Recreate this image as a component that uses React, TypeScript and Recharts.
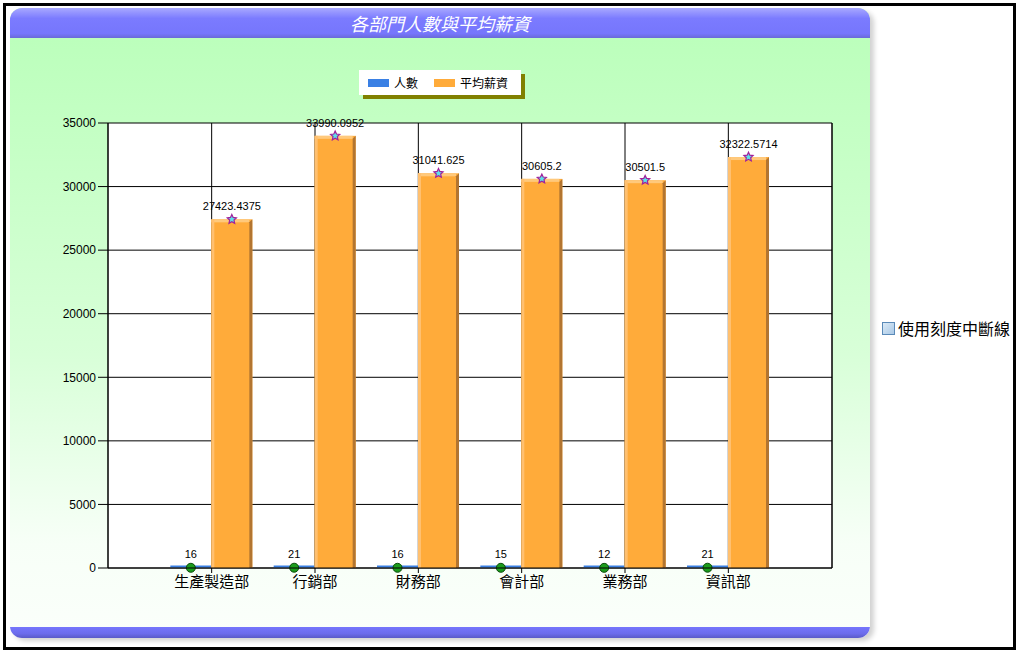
import { BarChart, Bar, XAxis, YAxis, CartesianGrid, Legend, LabelList } from "recharts";

const DEPARTMENTS = ["生產製造部", "行銷部", "財務部", "會計部", "業務部", "資訊部"];
const HEADCOUNT = [16, 21, 16, 15, 12, 21];
const AVG_SALARY = [27423.4375, 33990.0952, 31041.625, 30605.2, 30501.5, 32322.5714];
const Y_TICKS = [0, 5000, 10000, 15000, 20000, 25000, 30000, 35000];

const BLUE = "#3a80e4";
const ORANGE = "#ffab3a";
const FONT = "'Liberation Sans', Arial, 'Noto Sans CJK TC', sans-serif";

const data = DEPARTMENTS.map((name, i) => ({
   name,
   count: HEADCOUNT[i],
   salary: AVG_SALARY[i],
}));

// thin blue bar + green dot marker on top
const CountShape = (props: any) => {
   const { x, y, width, height } = props;
   const base = y + height;
   return (
      <g>
         <rect x={x} y={base - 2.5} width={width} height={2} fill={BLUE} />
         <circle cx={x + width / 2} cy={y} r={4.5} fill="#1c9c1c" stroke="#0c4c0c" strokeWidth={1} />
      </g>
   );
};

const starPoints = (cx: number, cy: number, ro: number, ri: number) => {
   const pts: string[] = [];
   for (let i = 0; i < 10; i++) {
      const r = i % 2 === 0 ? ro : ri;
      const a = -Math.PI / 2 + (i * Math.PI) / 5;
      pts.push(`${cx + r * Math.cos(a)},${cy + r * Math.sin(a)}`);
   }
   return pts.join(" ");
};

// orange bar with fake 3D edges + star marker
const SalaryShape = (props: any) => {
   const { x, y, width, height } = props;
   const d = 3;
   return (
      <g>
         <rect x={x} y={y} width={width} height={height} fill={ORANGE} />
         <rect x={x} y={y} width={width - d} height={d} fill="#ffc97c" />
         <rect x={x} y={y} width={d} height={height} fill="#ffc070" />
         <polygon
            points={`${x + width - d},${y + d} ${x + width},${y} ${x + width},${y + height} ${x + width - d},${y + height}`}
            fill="#b27531"
         />
         <polygon points={starPoints(x + width / 2, y, 4.8, 2.3)} fill="#5ce0e8" stroke="#a0209c" strokeWidth={1.2} />
      </g>
   );
};

const LegendBox = (props: any) => {
   const items = props.payload || [];
   return (
      <div
         style={{
            display: "inline-flex",
            alignItems: "center",
            background: "#fff",
            boxShadow: "4px 4px 0 #808000",
            padding: "4px 13px 4px 9px",
            fontSize: 12,
            fontFamily: FONT,
            color: "#000",
            height: 17,
         }}>
         {items.map((it: any, i: number) => (
            <span
               key={it.value}
               style={{ display: "inline-flex", alignItems: "center", marginLeft: i > 0 ? 16 : 0 }}>
               <span style={{ width: 21, height: 8, background: it.color, marginRight: 5 }} />
               {it.value}
            </span>
         ))}
      </div>
   );
};

const App = () => {
   return (
      <div style={{ position: "fixed", left: 0, top: 0, width: 1019, height: 654, background: "#fff", overflow: "hidden" }}>
         {/* outer frame */}
         <div style={{ position: "absolute", left: 3, top: 3, width: 1007, height: 641, border: "3px solid #000" }} />

         {/* chart panel */}
         <div
            style={{
               position: "absolute",
               left: 10,
               top: 8,
               width: 860,
               height: 630,
               borderRadius: 12,
               overflow: "hidden",
               boxShadow: "4px 3px 5px rgba(0,0,0,0.18)",
               background: "linear-gradient(to bottom, #bcffbc 5%, #d8ffd8 55%, #f7fff7 85%, #fbfffb 100%)",
            }}>
            <div
               style={{
                  height: 30,
                  background: "linear-gradient(to bottom, #a8a8ff 0%, #7b7bff 35%, #7676fc 85%, #6a6ad8 100%)",
                  color: "#fff",
                  fontStyle: "italic",
                  fontSize: 18,
                  fontFamily: "'Noto Sans CJK TC', sans-serif",
                  textAlign: "center",
                  lineHeight: "30px",
               }}>
               各部門人數與平均薪資
            </div>
            <div
               style={{
                  position: "absolute",
                  left: 0,
                  bottom: 0,
                  width: "100%",
                  height: 11,
                  background: "linear-gradient(to bottom, #7676fc 0%, #6c6cec 60%, #5a5ac8 100%)",
               }}
            />
         </div>

         {/* right-hand checkbox */}
         <div
            style={{
               position: "absolute",
               left: 882,
               top: 316,
               display: "flex",
               alignItems: "center",
               fontSize: 16,
               fontFamily: "'Noto Sans CJK TC', sans-serif",
               color: "#000",
            }}>
            <span
               style={{
                  width: 11,
                  height: 11,
                  border: "1px solid #5a8ab8",
                  background: "linear-gradient(135deg, #dbeaf6, #a9c8e6)",
                  marginRight: 3,
               }}
            />
            使用刻度中斷線
         </div>

         <div style={{ position: "absolute", left: 0, top: 0 }}>
            <BarChart
               width={1019}
               height={654}
               data={data}
               margin={{ top: 123, right: 183, bottom: 56, left: 48 }}
               barCategoryGap="10%"
               barGap={0}
               style={{ fontFamily: FONT }}>
               <CartesianGrid fill="#fff" stroke="#000" strokeWidth={1} yAxisId="left" />
               <XAxis
                  dataKey="name"
                  padding={{ left: 52, right: 52 }}
                  height={30}
                  tickSize={5}
                  tickMargin={3}
                  axisLine={{ stroke: "#000" }}
                  tickLine={{ stroke: "#000" }}
                  tick={{ fill: "#000", fontSize: 15, fontFamily: "'Noto Sans CJK TC', sans-serif" }}
                  interval={0}
               />
               <YAxis
                  yAxisId="left"
                  width={60}
                  domain={[0, 35000]}
                  ticks={Y_TICKS}
                  tickSize={10}
                  tickMargin={2}
                  axisLine={{ stroke: "#000" }}
                  tickLine={{ stroke: "#000" }}
                  tick={{ fill: "#000", fontSize: 12 }}
               />
               <YAxis
                  yAxisId="right"
                  orientation="right"
                  width={4}
                  domain={[0, 35000]}
                  tick={false}
                  tickLine={false}
                  axisLine={{ stroke: "#000" }}
               />
               <Legend
                  verticalAlign="middle"
                  align="center"
                  content={<LegendBox />}
                  wrapperStyle={{ top: 70, left: 359, width: "auto", height: "auto" }}
               />
               <Bar yAxisId="left" dataKey="count" name="人數" fill={BLUE} shape={<CountShape />} isAnimationActive={false}>
                  <LabelList dataKey="count" position="top" offset={10} fill="#000" fontSize={11} />
               </Bar>
               <Bar yAxisId="left" dataKey="salary" name="平均薪資" fill={ORANGE} shape={<SalaryShape />} isAnimationActive={false}>
                  <LabelList dataKey="salary" position="top" offset={9} fill="#000" fontSize={11} />
               </Bar>
            </BarChart>
         </div>
      </div>
   );
};

export default App;
